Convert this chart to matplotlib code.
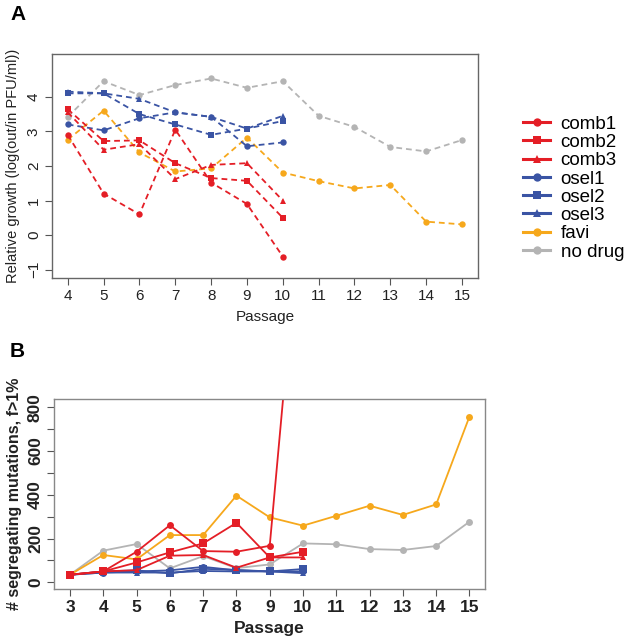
import numpy as np
import matplotlib.pyplot as plt
from matplotlib.lines import Line2D

plt.rcParams['font.family'] = ['Liberation Sans', 'DejaVu Sans']

# ---- data: panel A (relative growth) ----
passage_short = [4, 5, 6, 7, 8, 9, 10]
passage_long = [4, 5, 6, 7, 8, 9, 10, 11, 12, 13, 14, 15]

growth_comb1 = [2.9, 1.2, 0.6, 3.05, 1.52, 0.9, -0.62]
growth_comb2 = [3.64, 2.72, 2.74, 2.08, 1.65, 1.57, 0.5]
growth_comb3 = [3.55, 2.47, 2.63, 1.62, 2.03, 2.08, 1.0]
growth_osel1 = [3.2, 3.03, 3.38, 3.55, 3.42, 2.57, 2.68]
growth_osel2 = [4.1, 4.1, 3.5, 3.2, 2.9, 3.08, 3.3]
growth_osel3 = [4.15, 4.1, 3.94, 3.55, 3.42, 3.08, 3.45]
growth_favi = [2.76, 3.6, 2.39, 1.84, 1.93, 2.82, 1.81, 1.56, 1.35, 1.45, 0.39, 0.31]
growth_nodrug = [3.42, 4.45, 4.05, 4.34, 4.53, 4.26, 4.45, 3.45, 3.13, 2.55, 2.42, 2.75]

# ---- data: panel B (# segregating mutations) ----
passage_b_short = [3, 4, 5, 6, 7, 8, 9, 10]
passage_b_long = [3, 4, 5, 6, 7, 8, 9, 10, 11, 12, 13, 14, 15]

mut_comb1 = [35, 50, 140, 261, 143, 140, 167, 1840]
mut_comb2 = [35, 50, 91, 137, 178, 272, 114, 140]
mut_comb3 = [35, 50, 56, 122, 125, 67, 114, 114]
mut_osel1 = [35, 45, 50, 55, 71, 55, 50, 50]
mut_osel2 = [35, 50, 55, 41, 62, 57, 50, 61]
mut_osel3 = [35, 45, 45, 45, 52, 50, 50, 42]
mut_favi = [35, 125, 105, 216, 216, 396, 297, 259, 304, 350, 308, 356, 757]
mut_nodrug = [35, 145, 175, 64, 120, 65, 82, 178, 174, 152, 148, 166, 277]

red = '#E41E26'
blue = '#3A54A4'
orange = '#F6A81C'
gray = '#B4B4B4'

labels = ['comb1', 'comb2', 'comb3', 'osel1', 'osel2', 'osel3', 'favi', 'no drug']
colors = [red, red, red, blue, blue, blue, orange, gray]
markers = ['o', 's', '^', 'o', 's', '^', 'o', 'o']

fig = plt.figure(figsize=(6.28, 6.42), dpi=100)

# ---------------- panel A ----------------
axA = fig.add_axes([0.0828, 0.567, 0.678, 0.349])
series_a = [growth_comb1, growth_comb2, growth_comb3, growth_osel1,
            growth_osel2, growth_osel3, growth_favi, growth_nodrug]
order = [7, 6, 3, 4, 5, 0, 1, 2]
for i in order:
    y = series_a[i]
    x = passage_short if len(y) == len(passage_short) else passage_long
    ms = 4.8 if markers[i] == 's' else 4.6
    axA.plot(x, y, color=colors[i], marker=markers[i], ms=ms, lw=1.3,
             linestyle=(0, (3.2, 2.2)), markeredgewidth=0)
axA.set_xlim(3.56, 15.44)
axA.set_ylim(-1.24, 5.24)
axA.set_xticks(passage_long)
axA.set_yticks([-1, 0, 1, 2, 3, 4])
axA.set_yticklabels(['\u22121', '0', '1', '2', '3', '4'], rotation=90, va='center')
axA.tick_params(labelsize=11, length=5, color='#555555', labelcolor='#222222', pad=3)
axA.set_xlabel('Passage', fontsize=11, color='#222222', labelpad=5)
axA.set_ylabel('Relative growth (log(out/in PFU/ml))', fontsize=10.5, color='#222222', labelpad=5)
for s in axA.spines.values():
    s.set_color('#666666')
    s.set_linewidth(1.0)
fig.text(0.016, 0.978, 'A', fontsize=15, fontweight='bold', va='center', ha='left')

# legend
handles = [Line2D([], [], color=c, marker=m, lw=2.2, ms=6, markeredgewidth=0)
           for c, m in zip(colors, markers)]
fig.legend(handles, labels, loc='center left', bbox_to_anchor=(0.818, 0.707),
           frameon=False, fontsize=13.5, handlelength=1.45, handletextpad=0.55,
           labelspacing=0.06, borderpad=0)

# ---------------- panel B ----------------
axB = fig.add_axes([0.086, 0.0826, 0.687, 0.2955])
series_b = [mut_comb1, mut_comb2, mut_comb3, mut_osel1,
            mut_osel2, mut_osel3, mut_favi, mut_nodrug]
for i in order:
    y = series_b[i]
    x = passage_b_short if len(y) == len(passage_b_short) else passage_b_long
    ms = 5.2 if markers[i] == 's' else 5
    axB.plot(x, y, color=colors[i], marker=markers[i], ms=ms, lw=1.3,
             markeredgewidth=0, clip_on=True)
axB.set_xlim(2.52, 15.48)
axB.set_ylim(-30, 836)
axB.set_xticks(passage_b_long)
axB.set_yticks(np.arange(0, 801, 100))
axB.set_yticklabels(['0', '', '200', '', '400', '', '600', '', '800'],
                    rotation=90, va='center')
axB.tick_params(labelsize=12.5, length=5, color='#555555', labelcolor='#222222', pad=3)
for lab in axB.get_xticklabels() + axB.get_yticklabels():
    lab.set_fontweight('bold')
axB.set_xlabel('Passage', fontsize=12.5, fontweight='bold', color='#222222', labelpad=4)
axB.set_ylabel('# segregating mutations, f>1%', fontsize=11.5, fontweight='bold',
               color='#222222', labelpad=4)
for s in axB.spines.values():
    s.set_color('#888888')
    s.set_linewidth(1.0)
fig.text(0.016, 0.452, 'B', fontsize=15, fontweight='bold', va='center', ha='left')

fig.savefig('out.png', dpi=100)
